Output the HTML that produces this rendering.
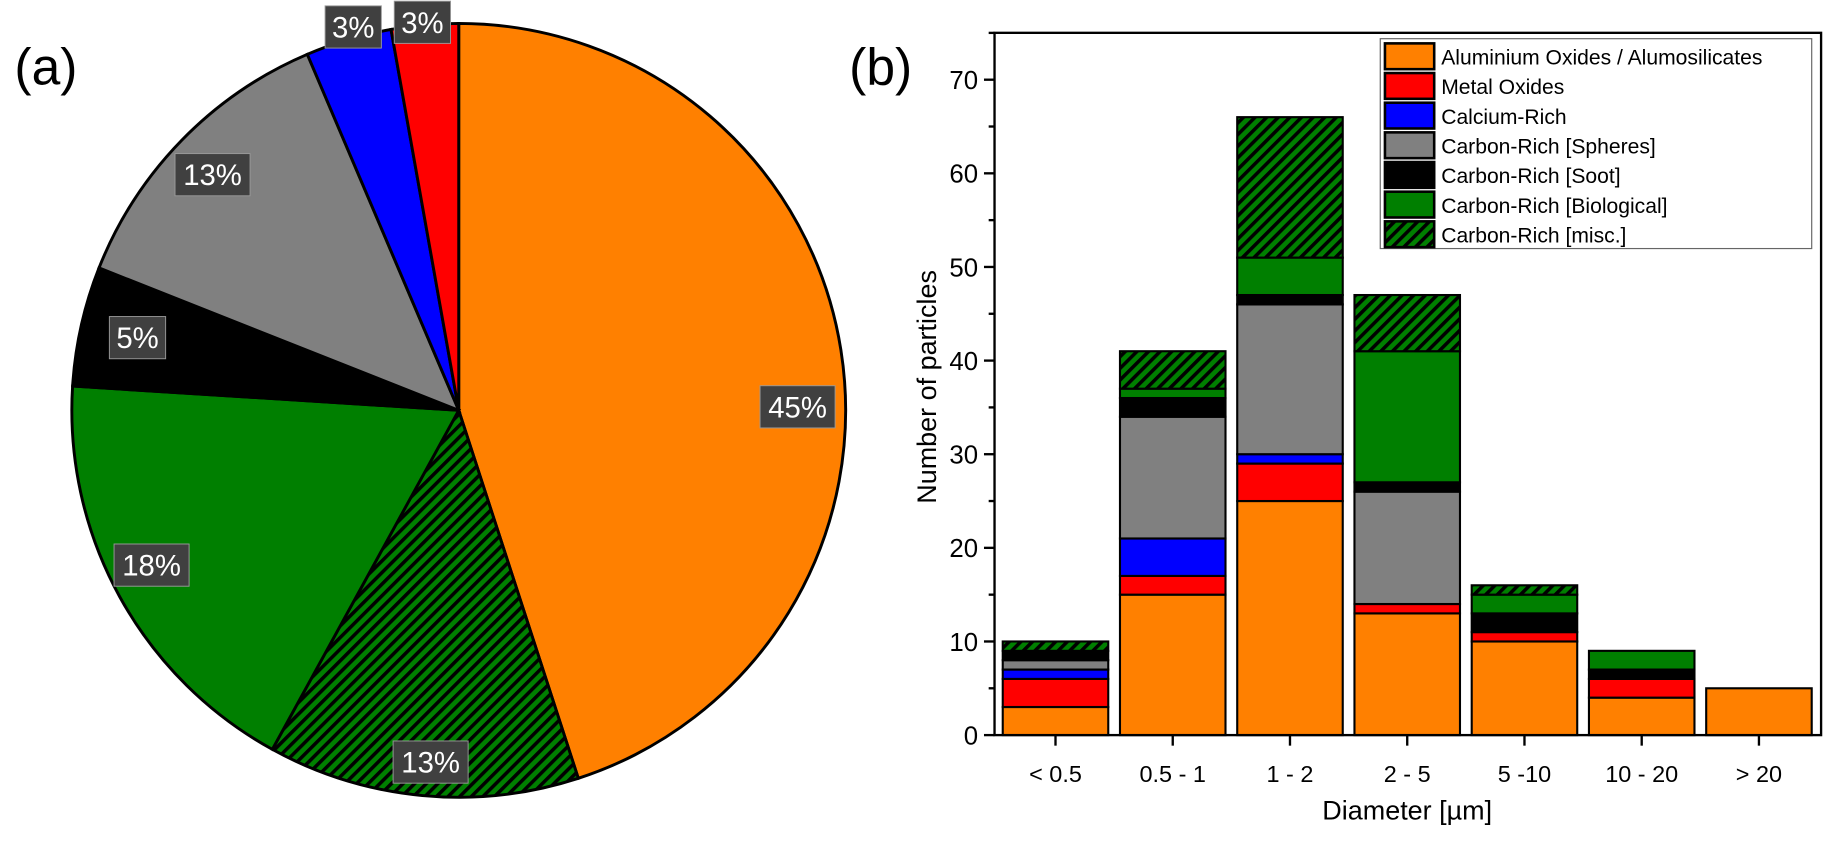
<!DOCTYPE html>
<html><head><meta charset="utf-8"><style>
html,body{margin:0;padding:0;background:#fff;}
svg{display:block;font-family:"Liberation Sans",Arial,sans-serif;}
</style></head><body>
<svg id="fig" width="1839" height="850" viewBox="0 0 1568 725" xmlns="http://www.w3.org/2000/svg">
<defs>
<pattern id="hatch" patternUnits="userSpaceOnUse" width="7" height="7" patternTransform="rotate(45)">
<rect width="7" height="7" fill="#007f00"/>
<rect width="3" height="7" fill="#000"/>
</pattern>
</defs>
<text x="12" y="72" font-size="44">(a)</text>
<text x="724" y="72" font-size="44">(b)</text>
<g id="pie"></g>
<g id="bars"></g>
</svg>
<script>
const pieNames = ["Aluminium Oxides / Alumosilicates","Carbon-Rich [misc.]","Carbon-Rich [Biological]","Carbon-Rich [Soot]","Carbon-Rich [Spheres]","Calcium-Rich","Metal Oxides"];
const pieValues = [45, 13, 18, 5, 12.6, 3.6, 2.8];
const pieLabels = ["45%","13%","18%","5%","13%","3%","3%"];
const pieColors = ["#ff8000","url(#hatch)","#007f00","#000000","#808080","#0000ff","#ff0000"];

const categories = ["< 0.5","0.5 - 1","1 - 2","2 - 5","5 -10","10 - 20","> 20"];
const seriesNames = ["Aluminium Oxides / Alumosilicates","Metal Oxides","Calcium-Rich","Carbon-Rich [Spheres]","Carbon-Rich [Soot]","Carbon-Rich [Biological]","Carbon-Rich [misc.]"];
const alumino = [3, 15, 25, 13, 10, 4, 5];
const metal   = [3, 2, 4, 1, 1, 2, 0];
const calcium = [1, 4, 1, 0, 0, 0, 0];
const spheres = [1, 13, 16, 12, 0, 0, 0];
const soot    = [1, 2, 1, 1, 2, 1, 0];
const bio     = [0, 1, 4, 14, 2, 2, 0];
const misc    = [1, 4, 15, 6, 1, 0, 0];
const yTicks = [0,10,20,30,40,50,60,70];
const seriesColors = ["#ff8000","#ff0000","#0000ff","#808080","#000000","#007f00","url(#hatch)"];

const NS = "http://www.w3.org/2000/svg";
function mk(tag, attrs, parent){const e=document.createElementNS(NS,tag);for(const k in attrs)e.setAttribute(k,attrs[k]);parent.appendChild(e);return e;}

// PIE
const pie = document.getElementById('pie');
const cx=391, cy=350, r=330;
const total = pieValues.reduce((a,b)=>a+b,0);
const labelPos = [[680,347],[367,650],[129,482],[117,288],[181,149],[301,23],[360,19]];
let acc=0;
function pt(a,rr){const t=a*Math.PI/180;return [cx+rr*Math.sin(t), cy-rr*Math.cos(t)];}
pieValues.forEach((v,i)=>{
  const a0=acc/total*360, a1=(acc+v)/total*360; acc+=v;
  const p0=pt(a0,r), p1=pt(a1,r);
  const large=(a1-a0)>180?1:0;
  const s=mk('path',{d:`M${cx},${cy} L${p0[0]},${p0[1]} A${r},${r} 0 ${large} 1 ${p1[0]},${p1[1]} Z`,fill:pieColors[i],stroke:'#000','stroke-width':2.5},pie);
  
  
});
pieValues.forEach((v,i)=>{
  const [lx,ly]=labelPos[i];
  const w = pieLabels[i].length>2?64:48;
  const g=mk('g',{},pie);
  
  
  mk('rect',{x:lx-w/2,y:ly-18,width:w,height:36,fill:'#404040',stroke:'#999','stroke-width':0.8},g);
  const t=mk('text',{x:lx,y:ly+9,'font-size':25,fill:'#fff','text-anchor':'middle'},g);
  t.textContent=pieLabels[i];
});

// BARS
const bars=document.getElementById('bars');
const X0=848, X1=1553, Ytop=28;
function yS(v){return 627 - v*7.986;}
function xS(i){return 900 + i*100;}
const bw=90;
const series=[alumino,metal,calcium,spheres,soot,bio,misc];
categories.forEach((c,i)=>{
  let base=0;
  series.forEach((arr,s)=>{
    const v=arr[i]; if(!v){return;}
    const rct=mk('rect',{x:xS(i)-bw/2,y:yS(base+v),width:bw,height:yS(base)-yS(base+v),fill:seriesColors[s],stroke:'#000','stroke-width':1.8},bars);
    
    
    base+=v;
  });
});
// frame
const fr=mk('rect',{x:X0,y:Ytop,width:X1-X0,height:yS(0)-Ytop,fill:'none',stroke:'#000','stroke-width':2},bars);


yTicks.forEach(v=>{
  mk('line',{x1:X0-9,x2:X0,y1:yS(v),y2:yS(v),stroke:'#000','stroke-width':2},bars);
  mk('line',{x1:X0-5,x2:X0,y1:yS(v+5),y2:yS(v+5),stroke:'#000','stroke-width':2},bars);
  const t=mk('text',{x:X0-14,y:yS(v)+8,'font-size':22,'text-anchor':'end'},bars);
  
  
  t.textContent=v;
});
categories.forEach((c,i)=>{
  mk('line',{x1:xS(i),x2:xS(i),y1:yS(0),y2:yS(0)+9,stroke:'#000','stroke-width':2},bars);
  const t=mk('text',{x:xS(i),y:667,'font-size':20,'text-anchor':'middle'},bars);
  
  
  t.textContent=c;
});
const xt=mk('text',{x:1200,y:699,'font-size':23,'text-anchor':'middle'},bars);


xt.textContent='Diameter [µm]';
const yt=mk('text',{x:0,y:0,'font-size':23,'text-anchor':'middle',transform:'translate(798,330) rotate(-90)'},bars);


yt.textContent='Number of particles';
// legend
const lg=mk('g',{},bars);


mk('rect',{x:1177,y:33,width:368,height:179,fill:'#fff',stroke:'#666','stroke-width':1},lg);
seriesNames.forEach((n,s)=>{
  const yy=48+s*25.3;
  const e=mk('g',{},lg);
  
  
  mk('rect',{x:1181,y:yy-11,width:42,height:22,fill:seriesColors[s],stroke:'#000','stroke-width':2.2},e);
  const t=mk('text',{x:1229,y:yy+7,'font-size':18},e);
  t.textContent=n;
});
</script>
</body></html>
